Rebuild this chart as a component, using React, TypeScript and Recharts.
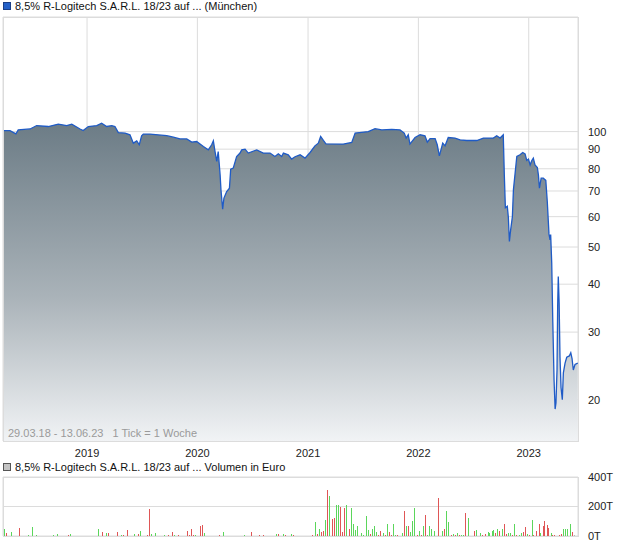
import React from 'react';
import { ComposedChart, Area, XAxis, YAxis, CartesianGrid, BarChart, Bar, Cell } from 'recharts';

// Time axis: weeks since 29.03.18 ("1 Tick = 1 Woche")
const START = Date.UTC(2018, 2, 29);
const END = Date.UTC(2023, 5, 13);
const WEEK = 7 * 86400000;
const endWeek = (END - START) / WEEK;
const yearLabels = ['2019', '2020', '2021', '2022', '2023'];
const yearTicks = yearLabels.map((y) => (Date.UTC(Number(y), 0, 1) - START) / WEEK);

const priceTicks = [20, 30, 40, 50, 60, 70, 80, 90, 100];
const volumeTicks = [0, 200, 400];

const priceWeeks = [
  0, 3.3, 6.1, 7.2, 12.8, 15.9, 21.4, 26.1, 30.1, 32.5,
  36.4, 37.9, 40.3, 44.3, 46.6, 49.0, 51.4, 52.9, 54.5, 57.7,
  60.0, 61.6, 63.2, 64.4, 65.5, 66.3, 69.5, 77.4, 80.5, 83.6,
  86.8, 89.2, 91.5, 94.7, 97.0, 98.6, 99.4, 100.2, 101.0, 101.7,
  102.6, 103.0, 103.8, 104.4, 105.7, 107.0, 107.6, 108.8, 110.4, 112.0,
  112.8, 114.4, 115.9, 119.9, 123.0, 126.2, 128.5, 130.1, 131.7, 132.5,
  134.8, 136.4, 138.0, 140.4, 142.7, 145.1, 147.4, 149.0, 150.1, 151.4,
  152.6, 160.8, 164.8, 166.4, 172.6, 175.8, 179.0, 183.7, 187.6, 189.6,
  190.5, 191.5, 192.3, 194.7, 197.1, 199.4, 200.5, 201.8, 204.2, 205.2,
  206.2, 207.8, 208.9, 210.4, 213.6, 216.0, 219.1, 223.9, 227.0, 231.7,
  233.3, 234.9, 236.4, 236.9, 237.4, 238.3, 238.8, 239.3, 239.9, 240.7,
  241.2, 242.0, 242.8, 244.3, 245.6, 246.7, 247.5, 248.3, 249.1, 249.9,
  250.6, 251.4, 252.5, 253.0, 253.5, 254.3, 255.3, 256.5, 257.2, 258.0,
  258.5, 258.8, 259.3, 259.8, 260.4, 260.9, 261.3, 261.8, 262.1, 262.4,
  262.8, 263.2, 263.7, 264.3, 264.8, 265.6, 266.4, 267.6, 268.3, 268.9,
  269.5, 270.3, 271.6,
];

const priceValues = [
  100.6, 100.6, 98.7, 101.0, 101.6, 103.7, 103.1, 104.6, 103.7, 104.6,
  101.6, 100.6, 103.1, 103.7, 105.2, 103.1, 103.7, 103.1, 99.4, 99.1,
  98.1, 93.3, 94.6, 92.4, 97.5, 98.5, 98.5, 97.6, 96.7, 95.7,
  95.7, 93.9, 94.2, 91.4, 89.6, 92.4, 94.6, 88.7, 83.6, 88.7,
  77.1, 70.5, 62.8, 67.1, 69.8, 71.2, 79.8, 80.3, 86.1, 87.9,
  89.6, 90.0, 87.9, 89.6, 87.9, 87.9, 86.1, 87.5, 86.1, 87.9,
  87.0, 84.8, 86.0, 87.0, 85.3, 88.2, 91.8, 93.3, 97.1, 94.8,
  92.9, 92.8, 93.7, 99.1, 100.0, 101.8, 101.0, 101.4, 101.0, 99.1,
  96.2, 98.1, 92.8, 96.5, 98.1, 97.5, 93.9, 95.9, 95.9, 92.4,
  86.4, 93.3, 91.8, 96.5, 96.2, 95.2, 94.8, 94.8, 96.2, 96.2,
  97.5, 96.2, 98.1, 77.1, 63.3, 63.9, 59.8, 51.7, 55.5, 59.9,
  70.5, 77.9, 86.1, 87.0, 88.2, 87.5, 84.1, 84.8, 81.9, 84.1,
  85.3, 81.9, 80.6, 77.1, 71.2, 75.6, 75.6, 74.6, 65.7, 54.1,
  52.2, 53.9, 45.4, 32.0, 22.5, 18.9, 19.6, 23.9, 35.0, 41.9,
  35.8, 25.9, 21.5, 20.0, 23.5, 24.9, 25.8, 26.0, 26.5, 25.6,
  23.9, 24.7, 24.9,
];

// Volume in thousand euro (T): [week, volume, direction]  u = up, d = down, n = neutral
const volumeBars: [number, number, string][] = [
  [0, 27, 'n'], [0.9, 47, 'u'], [1.9, 20, 'd'], [4.4, 27, 'u'], [8.2, 53, 'd'], [9.1, 3, 'u'],
  [12.4, 7, 'u'], [14.3, 60, 'u'], [16.2, 7, 'u'], [24.2, 7, 'u'], [25.2, 3, 'u'], [26.1, 13, 'u'],
  [31.3, 7, 'd'], [32.3, 13, 'u'], [45.5, 47, 'u'], [47.4, 27, 'd'], [48.3, 3, 'd'], [49.3, 20, 'u'],
  [50.2, 20, 'd'], [52.6, 3, 'u'], [53.5, 3, 'd'], [54.5, 27, 'd'], [56.4, 7, 'u'], [57.3, 7, 'd'],
  [59.2, 40, 'd'], [62.5, 13, 'u'], [64.4, 13, 'd'], [65.4, 33, 'u'], [68.7, 7, 'd'], [69.6, 180, 'd'],
  [70.6, 13, 'u'], [72.4, 20, 'u'], [76.7, 7, 'u'], [78.6, 7, 'd'], [80.5, 27, 'd'], [81.4, 7, 'u'],
  [83.3, 7, 'd'], [87.6, 33, 'd'], [88.5, 7, 'd'], [89.5, 47, 'd'], [90.4, 7, 'd'], [91.4, 7, 'u'],
  [93.7, 67, 'd'], [94.7, 73, 'd'], [95.6, 20, 'u'], [102.7, 7, 'd'], [104.6, 27, 'u'], [114.5, 7, 'u'],
  [117.8, 27, 'd'], [121.6, 7, 'd'], [123.5, 7, 'd'], [129.6, 13, 'u'], [130.6, 13, 'd'], [132.9, 13, 'u'],
  [133.9, 7, 'd'], [136.7, 13, 'u'], [137.7, 7, 'd'], [142.9, 3, 'd'], [144.8, 3, 'd'], [146.6, 7, 'd'],
  [148.1, 93, 'u'], [149.0, 13, 'd'], [150.0, 47, 'u'], [150.9, 27, 'd'], [151.9, 33, 'd'], [152.8, 107, 'u'],
  [153.7, 313, 'd'], [154.7, 273, 'u'], [156.1, 113, 'd'], [157.0, 120, 'd'], [158.0, 213, 'u'], [158.9, 207, 'u'],
  [159.9, 200, 'd'], [160.8, 27, 'd'], [161.8, 187, 'd'], [162.7, 207, 'u'], [164.1, 47, 'd'], [165.1, 193, 'u'],
  [166.0, 80, 'u'], [167.0, 40, 'u'], [167.9, 67, 'u'], [169.8, 20, 'u'], [170.7, 7, 'u'], [172.2, 133, 'u'],
  [173.1, 40, 'u'], [174.1, 13, 'd'], [175.0, 47, 'u'], [175.9, 67, 'u'], [176.9, 27, 'u'], [177.8, 7, 'd'],
  [178.8, 33, 'd'], [180.2, 20, 'u'], [181.1, 7, 'd'], [182.1, 80, 'u'], [183.0, 27, 'd'], [184.0, 7, 'd'],
  [184.9, 80, 'u'], [185.9, 7, 'u'], [186.8, 7, 'd'], [189.2, 20, 'u'], [190.1, 167, 'd'], [191.1, 67, 'u'],
  [192.0, 67, 'd'], [193.0, 27, 'u'], [193.9, 100, 'u'], [194.9, 187, 'u'], [196.3, 7, 'd'], [197.2, 33, 'u'],
  [198.2, 7, 'd'], [199.1, 67, 'u'], [200.1, 140, 'd'], [201.0, 7, 'u'], [201.9, 67, 'u'], [202.9, 47, 'u'],
  [204.3, 33, 'u'], [205.2, 3, 'd'], [206.2, 260, 'd'], [207.1, 3, 'u'], [208.1, 33, 'u'], [209.0, 47, 'd'],
  [210.0, 167, 'u'], [210.9, 93, 'u'], [212.3, 7, 'd'], [213.3, 13, 'u'], [214.2, 7, 'd'], [215.2, 20, 'u'],
  [216.1, 7, 'd'], [217.1, 7, 'u'], [218.0, 7, 'u'], [219.0, 153, 'd'], [220.4, 120, 'u'], [223.2, 33, 'd'],
  [224.2, 40, 'u'], [226.0, 20, 'u'], [227.0, 7, 'd'], [228.4, 13, 'd'], [229.4, 27, 'u'], [230.3, 20, 'u'],
  [231.3, 33, 'u'], [232.2, 40, 'u'], [233.1, 20, 'd'], [234.1, 47, 'u'], [235.0, 33, 'd'], [236.4, 47, 'u'],
  [237.4, 80, 'd'], [238.3, 13, 'd'], [239.3, 20, 'u'], [240.2, 20, 'u'], [241.2, 7, 'd'], [242.1, 80, 'u'],
  [243.1, 7, 'd'], [244.5, 7, 'u'], [245.4, 20, 'u'], [246.4, 27, 'd'], [247.3, 60, 'd'], [248.3, 13, 'u'],
  [249.2, 7, 'd'], [250.2, 107, 'u'], [251.1, 7, 'd'], [252.5, 33, 'd'], [253.5, 80, 'd'], [254.4, 20, 'u'],
  [255.4, 67, 'd'], [256.3, 100, 'd'], [257.3, 73, 'd'], [258.2, 53, 'd'], [259.2, 20, 'u'], [260.1, 7, 'd'],
  [261.0, 7, 'd'], [263.4, 7, 'd'], [264.3, 13, 'd'], [265.3, 47, 'u'], [266.2, 47, 'u'], [267.2, 47, 'u'],
  [268.6, 80, 'u'], [269.5, 27, 'd'], [270.5, 5, 'n'],
];

const priceData = priceWeeks.map((w, i) => ({ w, p: priceValues[i] }));
const volumeData = volumeBars.map(([w, v, d]) => ({ w, v, d }));
const dirColor: Record<string, string> = { u: '#5bd65b', d: '#df5656', n: '#b4b4b4' };

const FONT = '"Liberation Sans", Arial, sans-serif';
const GRID = '#dcdcdc';
const yearOf = (w: number) => String(new Date(START + w * WEEK).getUTCFullYear());

export default function App() {
  return (
    <div style={{ position: 'absolute', left: 0, top: 0, width: 620, height: 546, background: '#fff', fontFamily: FONT }}>
      {/* Title price */}
      <div style={{ position: 'absolute', left: 3, top: 2, width: 6, height: 6, background: '#2461c8', border: '1px solid #1b3f86' }} />
      <div style={{ position: 'absolute', left: 15, top: 0, fontSize: 11, color: '#111', whiteSpace: 'nowrap', lineHeight: '12px' }}>
        8,5% R-Logitech S.A.R.L. 18/23 auf ... (München)
      </div>

      <div style={{ position: 'absolute', left: 0, top: 0 }}>
        <ComposedChart width={620} height={460} data={priceData} margin={{ top: 17, right: 0, left: 3, bottom: 0 }}>
          <defs>
            <linearGradient id="priceFill" x1="0" y1="0" x2="0" y2="1">
              <stop offset="0%" stopColor="#6c7c86" />
              <stop offset="55%" stopColor="#aab3b9" />
              <stop offset="100%" stopColor="#f1f3f5" />
            </linearGradient>
          </defs>
          <CartesianGrid stroke={GRID} />
          <XAxis
            dataKey="w"
            type="number"
            domain={[0, endWeek]}
            ticks={yearTicks}
            interval={0}
            tickFormatter={yearOf}
            axisLine={false}
            tickLine={false}
            height={19}
            tickMargin={2}
            tick={{ fontSize: 11, fill: '#222', fontFamily: FONT }}
            allowDataOverflow
          />
          <YAxis
            orientation="right"
            scale="log"
            domain={[15.6, 199]}
            ticks={priceTicks}
            interval={0}
            axisLine={false}
            tickLine={false}
            width={42}
            tickMargin={4}
            tick={{ fontSize: 11, fill: '#222', fontFamily: FONT }}
            allowDataOverflow
          />
          <Area
            type="linear"
            dataKey="p"
            stroke="#1f5bc6"
            strokeWidth={1.3}
            fill="url(#priceFill)"
            fillOpacity={1}
            baseValue="dataMin"
            isAnimationActive={false}
            dot={false}
            activeDot={false}
          />
        </ComposedChart>
      </div>

      {/* frame of price chart */}
      <div style={{ position: 'absolute', left: 3, top: 17, width: 576, height: 425, boxSizing: 'border-box', border: `1px solid ${GRID}`, pointerEvents: 'none' }} />

      <div style={{ position: 'absolute', left: 8, top: 427, fontSize: 11, color: '#9a9a9a', whiteSpace: 'pre', lineHeight: '13px' }}>
        {'29.03.18 - 13.06.23   1 Tick = 1 Woche'}
      </div>

      {/* Title volume */}
      <div style={{ position: 'absolute', left: 3, top: 463, width: 6, height: 6, background: '#c4c4c4', border: '1px solid #555' }} />
      <div style={{ position: 'absolute', left: 15, top: 461, fontSize: 11, color: '#111', whiteSpace: 'nowrap', lineHeight: '12px' }}>
        8,5% R-Logitech S.A.R.L. 18/23 auf ... Volumen in Euro
      </div>

      <div style={{ position: 'absolute', left: 0, top: 470 }}>
        <BarChart width={620} height={76} data={volumeData} margin={{ top: 7, right: 0, left: 3, bottom: 10 }}>
          <CartesianGrid stroke={GRID} />
          <XAxis
            dataKey="w"
            type="number"
            domain={[0, endWeek]}
            ticks={yearTicks}
            interval={0}
            tick={false}
            axisLine={false}
            tickLine={false}
            height={0}
            allowDataOverflow
          />
          <YAxis
            orientation="right"
            domain={[0, 400]}
            ticks={volumeTicks}
            interval={0}
            axisLine={false}
            tickLine={false}
            width={42}
            tickMargin={4}
            tickFormatter={(v: number) => `${v}T`}
            tick={{ fontSize: 11, fill: '#222', fontFamily: FONT }}
          />
          <Bar dataKey="v" barSize={1} isAnimationActive={false}>
            {volumeData.map((d, i) => (
              <Cell key={i} fill={dirColor[d.d]} shapeRendering="crispEdges" />
            ))}
          </Bar>
        </BarChart>
      </div>
      <div style={{ position: 'absolute', left: 3, top: 477, width: 576, height: 60, boxSizing: 'border-box', border: `1px solid ${GRID}`, pointerEvents: 'none' }} />
    </div>
  );
}
